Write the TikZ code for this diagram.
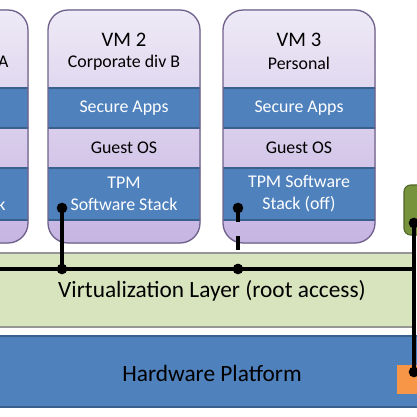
\documentclass[tikz,border=0pt]{standalone}
\usepackage{fontspec}
\setmainfont{Carlito}
\definecolor{vmTop}{RGB}{238,234,246}
\definecolor{vmBot}{RGB}{198,180,226}
\definecolor{vmEdge}{RGB}{112,98,140}
\definecolor{bandBlue}{RGB}{79,129,189}
\definecolor{bandEdge}{RGB}{58,96,142}
\definecolor{layerGreen}{RGB}{216,228,190}
\definecolor{layerEdge}{RGB}{150,150,150}
\definecolor{oliveBox}{RGB}{119,147,60}
\definecolor{oliveEdge}{RGB}{80,100,40}
\definecolor{orangeBox}{RGB}{247,150,70}
\begin{document}
\begin{tikzpicture}[x=0.75pt,y=0.75pt,yscale=-1,xscale=1,
    vmshape/.style={rounded corners=15pt},
    vmfill/.style={vmshape,top color=vmTop,bottom color=vmBot},
    vmedge/.style={vmshape,draw=vmEdge,line width=1pt},
    blueband/.style={fill=bandBlue,draw=bandEdge,line width=0.8pt},
    vmtitle/.style={inner sep=0.75pt,font=\fontsize{15.5}{18}\selectfont},
    vmlabel/.style={inner sep=0.75pt,align=center,font=\fontsize{13.4}{16.5}\selectfont},
    layerlabel/.style={inner sep=0.75pt,font=\fontsize{17.5}{20}\selectfont},
    wire/.style={line width=3pt},
    dot/.style={circle,fill=black,inner sep=0pt,minimum size=8pt}]
    \useasboundingbox (0,0) rectangle (417,417);

    % Hardware Platform
    \draw [blueband] (-5,336) rectangle (425,407);
    \node [layerlabel] (hwlabel) at (212,373) {Hardware Platform};

    % Virtualization Layer
    \draw [fill=layerGreen,draw=layerEdge,line width=0.8pt] (-5,253) rectangle (414,327);
    \node [layerlabel] (virtlabel) at (212,291) {Virtualization Layer (root access)};

    % VM boxes
    \foreach \xl in {-124,48,223}{
        \fill [vmfill] (\xl,10) rectangle ++(152,233);
        \begin{scope}
            \clip [vmshape] (\xl,10) rectangle ++(152,233);
            \draw [blueband] (\xl-3,88) rectangle ++(158,40);
            \draw [draw=bandEdge,line width=0.8pt] (\xl-3,128) rectangle ++(158,40);
            \draw [blueband] (\xl-3,168) rectangle ++(158,52);
        \end{scope}
        \draw [vmedge] (\xl,10) rectangle ++(152,233);
    }

    % VM 1 (cut off at the left)
    \node [vmlabel] (sub1) at (-48,63) {Corporate div A};
    \node [vmlabel,text=white] (tpm1) at (-48,194) {TPM\\Software Stack};

    % VM 2
    \node [vmtitle] (title2) at (124,40) {VM 2};
    \node [vmlabel] (sub2) at (124,63) {Corporate div B};
    \node [vmlabel,text=white] (apps2) at (124,108) {Secure Apps};
    \node [vmlabel] (os2) at (124,148) {Guest OS};
    \node [vmlabel,text=white] (tpm2) at (124,194) {TPM\\Software Stack};

    % VM 3
    \node [vmtitle] (title3) at (299,40) {VM 3};
    \node [vmlabel] (sub3) at (299,63) {Personal};
    \node [vmlabel,text=white] (apps3) at (299,108) {Secure Apps};
    \node [vmlabel] (os3) at (299,148) {Guest OS};
    \node [vmlabel,text=white] (tpm3) at (299,194) {TPM Software\\Stack (off)};

    % TPM chips
    \draw [fill=oliveBox,draw=oliveEdge,line width=0.8pt,rounded corners=5pt] (404,185) rectangle (432,235);
    \fill [orangeBox] (397,365) rectangle (425,394);

    % Connections
    \node [dot] (tpmdot2) at (62,208) {};
    \node [dot] (virtdot2) at (62,269) {};
    \node [dot] (tpmdot3) at (238,208) {};
    \node [dot] (virtdot3) at (238,269) {};
    \node [dot] (olivedot) at (414,223) {};
    \node [dot] (orangedot) at (414,372) {};
    \coordinate (busL) at (-5,269);
    \coordinate (busR) at (414,269);

    \draw [wire] (busL) -- (busR);
    \draw [wire] (olivedot.center) -- (orangedot.center);
    \draw [wire] (tpmdot2.center) -- (virtdot2.center);
    \draw [wire,dash pattern=on 10.5pt off 10.5pt] (tpmdot3.center) -- (virtdot3.center);

\end{tikzpicture}
\end{document}
